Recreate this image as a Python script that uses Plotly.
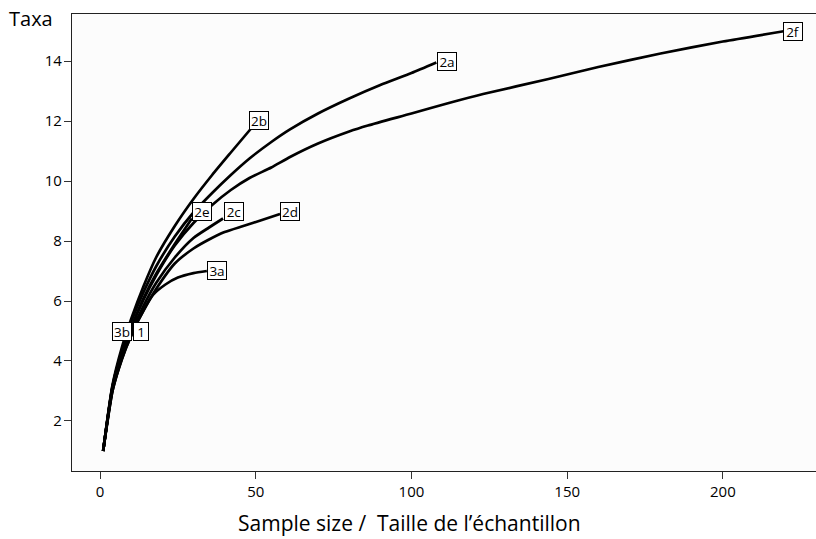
import plotly.graph_objects as go

# ---- data ----
x_2b = [1, 4, 7, 10, 14, 18, 24, 30, 36, 42, 48.5]
y_2b = [1, 3.2, 4.45, 5.4, 6.5, 7.45, 8.5, 9.4, 10.2, 10.95, 11.75]

x_2a = [1, 4, 7, 10, 14, 18, 24, 30, 36, 42, 48, 55, 61, 70, 80, 90, 100, 108]
y_2a = [1, 3.15, 4.35, 5.3, 6.3, 7.15, 8.15, 8.95, 9.6, 10.2, 10.75, 11.3, 11.72, 12.25, 12.75, 13.2, 13.6, 13.95]

x_2f = [1, 4, 7, 10, 14, 18, 24, 30, 36, 42, 48, 55, 61, 70, 80, 86, 100, 112, 123, 144, 160, 180, 200, 220]
y_2f = [1, 3.1, 4.2, 5.1, 6.05, 6.85, 7.85, 8.6, 9.2, 9.7, 10.1, 10.45, 10.8, 11.25, 11.65, 11.85, 12.25, 12.6, 12.9, 13.4, 13.8, 14.25, 14.65, 15.0]

x_2e = [1, 4, 7, 10, 14, 18, 24, 29.5]
y_2e = [1, 3.1, 4.2, 5.1, 6.1, 6.9, 7.9, 8.75]

x_2c = [1, 4, 7, 10, 14, 18, 24, 30, 35, 39.5]
y_2c = [1, 3.05, 4.1, 4.95, 5.85, 6.6, 7.45, 8.1, 8.45, 8.75]

x_2d = [1, 4, 7, 10, 14, 18, 24, 30, 35, 40, 46, 52, 57.8]
y_2d = [1, 3.0, 4.05, 4.85, 5.7, 6.4, 7.25, 7.75, 8.05, 8.3, 8.5, 8.7, 8.9]

x_3a = [4, 6, 8, 10, 13, 17, 21, 25, 30, 34.3]
y_3a = [3.1, 3.85, 4.45, 4.95, 5.5, 6.2, 6.55, 6.78, 6.93, 7.0]

x_3b = [1, 4, 6, 8, 10]
y_3b = [1, 3.15, 3.95, 4.5, 5.0]

x_1 = [1, 4, 6, 8, 10.7]
y_1 = [1, 3.0, 3.75, 4.35, 5.0]

curves = [
    ("2b", x_2b, y_2b), ("2a", x_2a, y_2a), ("2f", x_2f, y_2f),
    ("2e", x_2e, y_2e), ("2c", x_2c, y_2c), ("2d", x_2d, y_2d),
    ("3a", x_3a, y_3a), ("3b", x_3b, y_3b), ("1", x_1, y_1),
]

# label positions (data coords of box centres)
label_names = ["2f", "2a", "2b", "2e", "2c", "2d", "3a", "3b", "1"]
label_x = [222.5, 111.4, 51.0, 32.7, 43.0, 61.0, 37.6, 7.06, 13.3]
label_y = [15.0, 13.97, 12.03, 8.97, 9.0, 9.0, 7.03, 4.97, 4.97]

x_ticks = [0, 50, 100, 150, 200]
y_ticks = [2, 4, 6, 8, 10, 12, 14]

FONT = "Open Sans"

fig = go.Figure()
for name, xs, ys in curves:
    fig.add_trace(go.Scatter(
        x=xs, y=ys, mode="lines", name=name,
        line=dict(color="black", width=2.7, shape="spline", smoothing=0.6),
        hoverinfo="skip", showlegend=False,
    ))

for n, lx, ly in zip(label_names, label_x, label_y):
    fig.add_annotation(
        x=lx, y=ly, xref="x", yref="y", text=n, showarrow=False,
        font=dict(family=FONT, size=13.5, color="black"),
        width=(13 if n == "1" else 17), height=16, align="center",
        bgcolor="white", bordercolor="black", borderwidth=1, borderpad=0.5,
    )

fig.add_annotation(
    x=0.0, y=1.0, xref="paper", yref="paper", xanchor="right", yanchor="top",
    xshift=-17, yshift=11, text="Taxa", showarrow=False,
    font=dict(family=FONT, size=20, color="black"),
)

fig.add_annotation(
    x=0.454, y=0.0, xref="paper", yref="paper", xanchor="center", yanchor="middle",
    yshift=-52, text="Sample size /  Taille de l\u2019\u00e9chantillon", showarrow=False,
    font=dict(family=FONT, size=21, color="black"),
)

fig.update_layout(
    width=816, height=539,
    margin=dict(l=72, r=0, t=14, b=68),
    paper_bgcolor="white", plot_bgcolor="#fcfcfc",
    font=dict(family=FONT, color="black"),
    xaxis=dict(
        range=[-9, 229.9], tickvals=x_ticks, ticks="outside", ticklen=7,
        tickcolor="#333", showline=True, linecolor="#222", linewidth=1.2,
        mirror=True, showgrid=False, zeroline=False,
        tickfont=dict(family=FONT, size=15),
    ),
    yaxis=dict(
        range=[0.333, 15.567], tickvals=y_ticks, ticks="outside", ticklen=7,
        tickcolor="#333", showline=True, linecolor="#222", linewidth=1.2,
        mirror=False, showgrid=False, zeroline=False,
        tickfont=dict(family=FONT, size=15), ticklabelstandoff=-1,
    ),
)

fig.write_html("out.html", post_script="document.body.style.margin='0px';",
               config={"displayModeBar": False})
